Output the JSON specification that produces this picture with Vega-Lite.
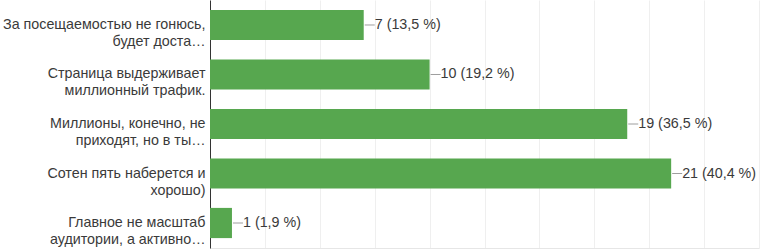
{
  "$schema": "https://vega.github.io/schema/vega-lite/v6.json",
  "width": 549,
  "height": 248,
  "autosize": "none",
  "padding": {"left": 210, "top": 0, "right": 3, "bottom": 3},
  "background": "#ffffff",
  "config": {
    "view": {"stroke": null},
    "font": "Liberation Sans"
  },
  "data": {
    "values": [
      {"label": "За посещаемостью не гонюсь,\nбудет доста…", "count": 7, "text": "7 (13,5 %)"},
      {"label": "Страница выдерживает\nмиллионный трафик.", "count": 10, "text": "10 (19,2 %)"},
      {"label": "Миллионы, конечно, не\nприходят, но в ты…", "count": 19, "text": "19 (36,5 %)"},
      {"label": "Сотен пять наберется и\nхорошо)", "count": 21, "text": "21 (40,4 %)"},
      {"label": "Главное не масштаб\nаудитории, а активно…", "count": 1, "text": "1 (1,9 %)"}
    ]
  },
  "encoding": {
    "y": {
      "field": "label",
      "type": "nominal",
      "sort": null,
      "scale": {"paddingInner": 0.39, "paddingOuter": 0.2},
      "axis": {
        "title": null,
        "labelExpr": "split(datum.label, '\\n')",
        "labelFontSize": 14.3,
        "labelColor": "#3a3a3a",
        "labelLineHeight": 17,
        "labelPadding": 5,
        "ticks": false,
        "domainColor": "#333333",
        "domainWidth": 1,
        "labelLimit": 220,
        "grid": false
      }
    }
  },
  "layer": [
    {
      "mark": {"type": "bar", "color": "#57a74f"},
      "encoding": {
        "x": {
          "field": "count",
          "type": "quantitative",
          "scale": {"domain": [0, 25], "nice": false},
          "axis": {
            "title": null,
            "labels": false,
            "ticks": false,
            "values": [0, 2.5, 5, 7.5, 10, 12.5, 15, 17.5, 20, 22.5, 25],
            "grid": true,
            "gridColor": "#efefef",
            "domainColor": "#e6e6e6"
          }
        }
      }
    },
    {
      "mark": {"type": "rule", "color": "#9e9e9e", "strokeWidth": 1, "xOffset": 1, "x2Offset": 11},
      "encoding": {
        "x": {"field": "count", "type": "quantitative"},
        "x2": {"field": "count"}
      }
    },
    {
      "mark": {"type": "text", "align": "left", "baseline": "middle", "dx": 11, "fontSize": 14.3, "color": "#3a3a3a"},
      "encoding": {
        "x": {"field": "count", "type": "quantitative"},
        "text": {"field": "text"}
      }
    }
  ]
}
